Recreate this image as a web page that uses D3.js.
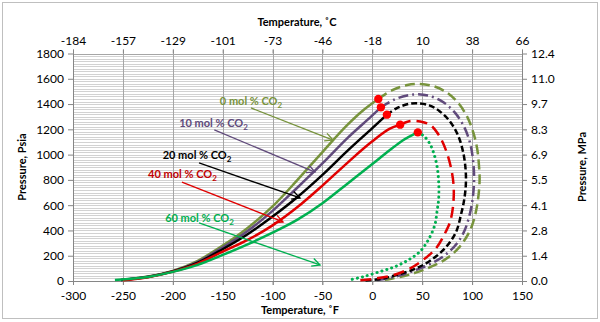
<!DOCTYPE html>
<html>
<head>
<meta charset="utf-8">
<script src="https://cdn.jsdelivr.net/npm/d3@7"></script>
<style>
  body { margin: 0; background: #fff; }
  text { font-family: Lato, "Open Sans", sans-serif; }
</style>
</head>
<body>
<div id="chart"></div>
<script>
// ---- data (temperature in F, pressure in psia) ----
var tempTicks = [-300, -250, -200, -150, -100, -50, 0, 50, 100, 150];
var celsiusLabels = ["-184", "-157", "-129", "-101", "-73", "-46", "-18", "10", "38", "66"];
var psiTicks = [0, 200, 400, 600, 800, 1000, 1200, 1400, 1600, 1800];
var mpaLabels = ["0.0", "1.4", "2.8", "4.1", "5.5", "6.9", "8.3", "9.7", "11.0", "12.4"];

var seriesNames = ["0 mol % CO", "10 mol % CO", "20 mol % CO", "40 mol % CO", "60 mol % CO"];

// bubble point curves (solid)
var bubble0 = [[-250,8],[-225,35],[-200,80],[-175,160],[-150,280],[-125,420],[-100,590],[-75,800],[-50,1020],[-25,1235],[-10,1345],[6,1440]];
var bubble10 = [[-252,8],[-225,33],[-200,78],[-175,152],[-150,265],[-125,395],[-100,555],[-75,740],[-50,930],[-25,1130],[0,1310],[8.6,1374]];
var bubble20 = [[-252,7],[-225,32],[-200,76],[-175,145],[-150,251],[-125,370],[-100,510],[-75,665],[-50,840],[-25,1030],[0,1210],[14.6,1316]];
var bubble40 = [[-250,6],[-225,30],[-200,74],[-175,138],[-150,232],[-125,325],[-100,440],[-75,585],[-50,755],[-25,935],[0,1105],[17.6,1205],[27.9,1237]];
var bubble60 = [[-258,8],[-225,32],[-200,72],[-175,128],[-150,206],[-125,290],[-100,382],[-75,485],[-50,615],[-25,770],[0,925],[17.6,1036],[30,1110],[45.6,1176]];

// dew point curves (dashed)
var dew0 = [[6,1440],[20,1510],[35,1550],[48,1558],[62,1540],[75,1490],[86,1410],[95,1300],[101,1180],[105,1050],[107,900],[107.5,800],[106,650],[103,520],[99,420],[93,330],[84,240],[72,165],[58,110],[45,70],[32,40],[18,16],[10,6]];
var dew10 = [[8.6,1374],[22,1435],[35,1468],[46,1477],[60,1458],[72,1410],[83,1330],[92,1220],[98,1090],[101,950],[102,820],[101,680],[98,540],[93,410],[86,310],[76,225],[63,155],[48,100],[30,50],[15,20],[2,5]];
var dew20 = [[14.6,1316],[25,1370],[36,1400],[45,1406],[57,1390],[68,1340],[78,1260],[86,1150],[91,1020],[93.5,880],[93.7,760],[92,640],[89,530],[84,390],[74,270],[59,166],[44,100],[24,47],[8,15],[-8,3]];
var dew40 = [[27.9,1237],[38,1266],[48,1262],[58,1235],[67,1150],[74,1030],[79,890],[81.5,750],[81,600],[78,470],[73.6,390],[64,260],[53,180],[38,100],[21,47],[4,20],[-12,5]];
var dew60 = [[45.6,1176],[52,1145],[58,1080],[62,1000],[65,900],[66.5,780],[66.5,650],[65,560],[62.6,443],[56,324],[47.6,232],[36,166],[22.6,113],[7.6,74],[-9,34],[-22,10]];

// critical points
var critical = [[6,1440],[8.6,1374],[14.6,1316],[27.9,1237],[45.6,1176]];

// ---- setup ----
var width = 600, height = 322;
var colors = ["#77933C", "#604A7B", "#000000", "#E00000", "#00B050"];
var dashes = ["10,5", "10,4,2,4", "6,3", "11,6", "0.1,5"];
var bubbles = [bubble0, bubble10, bubble20, bubble40, bubble60];
var dews = [dew0, dew10, dew20, dew40, dew60];

var svg = d3.select("#chart").append("svg")
  .attr("width", width)
  .attr("height", height);

// outer frame
svg.append("rect")
  .attr("x", 2.5).attr("y", 2.5)
  .attr("width", 595).attr("height", 316)
  .attr("fill", "#fff").attr("stroke", "#bfbfbf");

var x = d3.scaleLinear().domain([-300, 150]).range([73, 522]);
var y = d3.scaleLinear().domain([0, 1800]).range([281, 53.5]);

// horizontal gridlines (dense)
svg.append("g").selectAll("line")
  .data(d3.range(20, 1800, 20))
  .enter().append("line")
  .attr("x1", x(-300)).attr("x2", x(150))
  .attr("y1", d => Math.round(y(d)) + 0.5).attr("y2", d => Math.round(y(d)) + 0.5)
  .attr("stroke", "#d2d2d2");

// vertical gridlines
svg.append("g").selectAll("line")
  .data(tempTicks)
  .enter().append("line")
  .attr("x1", d => Math.round(x(d)) + 0.5).attr("x2", d => Math.round(x(d)) + 0.5)
  .attr("y1", y(1800) - 4).attr("y2", y(0) + 4)
  .attr("stroke", "#a6a6a6");

// axis lines
svg.append("line").attr("x1", x(-300)).attr("x2", x(150))
  .attr("y1", Math.round(y(0)) + 0.5).attr("y2", Math.round(y(0)) + 0.5).attr("stroke", "#868686");
svg.append("line").attr("x1", x(-300)).attr("x2", x(150))
  .attr("y1", Math.round(y(1800)) + 0.5).attr("y2", Math.round(y(1800)) + 0.5).attr("stroke", "#a6a6a6");

// axes
function styleAxis(g) {
  g.select(".domain").remove();
  g.selectAll(".tick line").attr("stroke", "#868686");
  g.selectAll(".tick text").attr("fill", "#000").style("font-size", "12px")
    .style("font-family", "Lato, 'Open Sans', sans-serif");
}

svg.append("g")
  .attr("transform", "translate(0," + y(0) + ")")
  .call(d3.axisBottom(x).tickValues(tempTicks).tickSize(4).tickPadding(6)
    .tickFormat(d => String(d)))
  .call(styleAxis);

svg.append("g")
  .attr("transform", "translate(0," + y(1800) + ")")
  .call(d3.axisTop(x).tickValues(tempTicks).tickSize(4).tickPadding(5)
    .tickFormat((d, i) => celsiusLabels[i]))
  .call(styleAxis);

svg.append("g")
  .attr("transform", "translate(" + x(-300) + ",0)")
  .call(d3.axisLeft(y).tickValues(psiTicks).tickSize(5).tickPadding(4)
    .tickFormat(d => String(d)))
  .call(styleAxis);

svg.append("g")
  .attr("transform", "translate(" + x(150) + ",0)")
  .call(d3.axisRight(y).tickValues(psiTicks).tickSize(5).tickPadding(4)
    .tickFormat((d, i) => mpaLabels[i]))
  .call(styleAxis);

svg.append("line").attr("x1", Math.round(x(-300)) + 0.5).attr("x2", Math.round(x(-300)) + 0.5)
  .attr("y1", y(1800)).attr("y2", y(0)).attr("stroke", "#868686");
svg.append("line").attr("x1", Math.round(x(150)) + 0.5).attr("x2", Math.round(x(150)) + 0.5)
  .attr("y1", y(1800)).attr("y2", y(0)).attr("stroke", "#868686");

// axis titles
svg.append("text").attr("x", 297).attr("y", 26).attr("text-anchor", "middle")
  .style("font-size", "11px").style("font-weight", "bold").text("Temperature, ˚C");
svg.append("text").attr("x", 300).attr("y", 314).attr("text-anchor", "middle")
  .style("font-size", "11px").style("font-weight", "bold").text("Temperature, ˚F");
svg.append("text").attr("transform", "translate(26,167) rotate(-90)").attr("text-anchor", "middle")
  .style("font-size", "11px").style("font-weight", "bold").text("Pressure, Psia");
svg.append("text").attr("transform", "translate(586,167) rotate(-90)").attr("text-anchor", "middle")
  .style("font-size", "11px").style("font-weight", "bold").text("Pressure, MPa");

// curves
var bubbleLine = d3.line().x(d => x(d[0])).y(d => y(d[1])).curve(d3.curveMonotoneX);
var dewLine = d3.line().x(d => x(d[0])).y(d => y(d[1])).curve(d3.curveCatmullRom.alpha(0.5));

var plot = svg.append("g");
dews.forEach(function(d, i) {
  plot.append("path").attr("d", dewLine(d))
    .attr("fill", "none").attr("stroke", colors[i])
    .attr("stroke-width", i == 4 ? 3 : 2.5)
    .attr("stroke-dasharray", dashes[i])
    .attr("stroke-linecap", i == 4 ? "round" : "butt");
});
bubbles.forEach(function(d, i) {
  plot.append("path").attr("d", bubbleLine(d))
    .attr("fill", "none").attr("stroke", colors[i])
    .attr("stroke-width", 2.5);
});

plot.selectAll("circle").data(critical).enter().append("circle")
  .attr("cx", d => x(d[0])).attr("cy", d => y(d[1])).attr("r", 4.2)
  .attr("fill", "#ff0000");

// annotations: label position and arrow in chart units
var notes = [
  {tx: -121.6, ty: 1392, ax: -121.6, ay: 1369, bx: -39.4, by: 1115},
  {tx: -159.2, ty: 1218, ax: -158.4, ay: 1195, bx: -57.5, by: 862},
  {tx: -175.7, ty: 965, ax: -173.7, ay: 934, bx: -72.5, by: 657},
  {tx: -190.3, ty: 815, ax: -190.8, ay: 783, bx: -89.5, by: 467},
  {tx: -173.2, ty: 467, ax: -173.7, ay: 459, bx: -52.4, by: 127}
];

var defs = svg.append("defs");
colors.forEach(function(c, i) {
  defs.append("marker")
    .attr("id", "arr" + i)
    .attr("markerUnits", "userSpaceOnUse")
    .attr("markerWidth", 12).attr("markerHeight", 12)
    .attr("refX", 9).attr("refY", 5)
    .attr("orient", "auto")
    .append("path").attr("d", "M1,1 L9,5 L1,9")
    .attr("fill", "none").attr("stroke", c).attr("stroke-width", 1.3);
});

var textColors = ["#77933C", "#604A7B", "#000000", "#C00000", "#00B050"];
notes.forEach(function(n, i) {
  svg.append("line")
    .attr("x1", x(n.ax)).attr("y1", y(n.ay))
    .attr("x2", x(n.bx)).attr("y2", y(n.by))
    .attr("stroke", colors[i]).attr("stroke-width", 1.3)
    .attr("marker-end", "url(#arr" + i + ")");
  var t = svg.append("text")
    .attr("x", x(n.tx)).attr("y", y(n.ty))
    .attr("text-anchor", "middle")
    .attr("fill", textColors[i])
    .style("font-size", "11px").style("font-weight", "bold");
  t.append("tspan").text(seriesNames[i]);
  t.append("tspan").attr("dy", 3).style("font-size", "8px").text("2");
});
</script>
</body>
</html>
